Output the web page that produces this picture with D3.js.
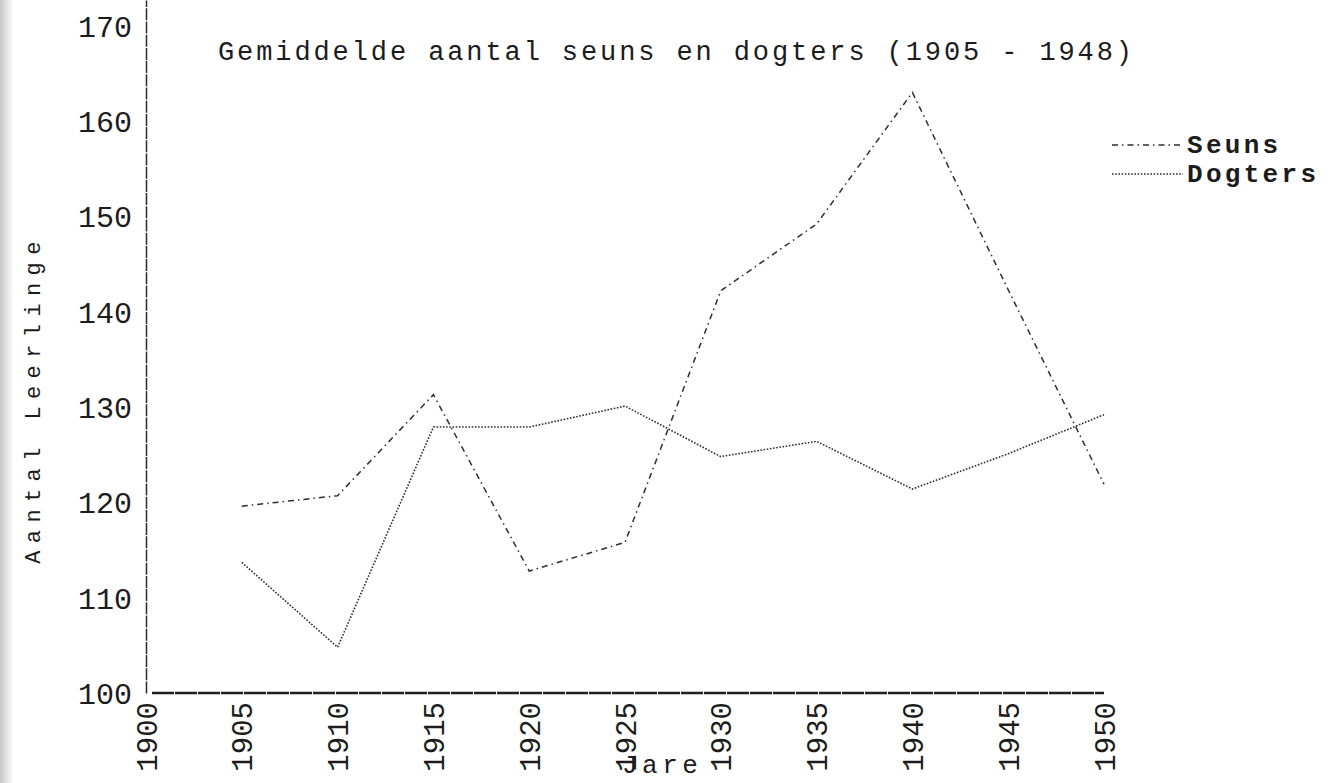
<!DOCTYPE html>
<html>
<head>
<meta charset="utf-8">
<script src="https://cdn.jsdelivr.net/npm/d3@7"></script>
<style>
  html, body { margin: 0; padding: 0; background: #fff; }
  svg { display: block; }
  text { font-family: "Liberation Mono", "Courier New", monospace; fill: #1c1c1c; }
</style>
</head>
<body>
<svg id="chart" width="1338" height="783"></svg>
<script>
// ---- Data ----
const years = [1905, 1910, 1915, 1920, 1925, 1930, 1935, 1940, 1945, 1950];
const seuns = [119.6, 120.7, 131.3, 112.8, 115.8, 142.2, 149.2, 163, 142.3, 121.9];
const dogters = [113.7, 104.8, 127.9, 127.9, 130.1, 124.8, 126.4, 121.4, 125.1, 129.2];
const xTicks = [1900, 1905, 1910, 1915, 1920, 1925, 1930, 1935, 1940, 1945, 1950];
const yTicks = [100, 110, 120, 130, 140, 150, 160, 170];
const seriesNames = ["Seuns", "Dogters"];
const titleText = "Gemiddelde aantal seuns en dogters (1905 - 1948)";
const xLabel = "Jare";
const yLabel = "Aantal Leerlinge";

// ---- Layout ----
const svg = d3.select("#chart");
const x = d3.scaleLinear().domain([1900, 1950]).range([146, 1104]);
const y = d3.scaleLinear().domain([100, 172.7]).range([693, 0]);

// faint scan edge on the left
const grad = svg.append("defs").append("linearGradient").attr("id", "edge");
grad.append("stop").attr("offset", "0").attr("stop-color", "#c8c8c8");
grad.append("stop").attr("offset", "1").attr("stop-color", "#fff");
svg.append("rect").attr("x", 0).attr("y", 0).attr("width", 14).attr("height", 783).attr("fill", "url(#edge)");

// Y axis
const yAxis = svg.append("g").attr("transform", `translate(${x(1900)},0)`)
  .call(d3.axisLeft(y).tickValues(yTicks).tickSize(0).tickPadding(14).tickFormat(d3.format("d")));
yAxis.select(".domain").attr("stroke", "#2a2a2a").attr("stroke-width", 1.5).attr("stroke-dasharray", "12,1.2");
yAxis.selectAll("text").style("font-size", "30px").attr("dy", "0.35em").attr("fill", "#1c1c1c");

// X axis
const xAxis = svg.append("g").attr("transform", `translate(0,${y(100)})`)
  .call(d3.axisBottom(x).tickValues(xTicks).tickSize(0).tickFormat(d3.format("d")));
xAxis.select(".domain").attr("d", `M${x(1900) + 6},0H${x(1950)}`)
  .attr("stroke", "#1e1e1e").attr("stroke-width", 2.4).attr("stroke-dasharray", "22,1");
xAxis.selectAll("text")
  .style("font-size", "29px")
  .attr("text-anchor", "end")
  .attr("transform", "rotate(-90)")
  .attr("x", -9)
  .attr("y", 0)
  .attr("dy", "0.35em")
  .attr("fill", "#1c1c1c");

// Lines
const line = d3.line().x((d, i) => x(years[i])).y(d => y(d));
svg.append("path").datum(seuns).attr("d", line)
  .attr("fill", "none").attr("stroke", "#2e2e2e").attr("stroke-width", 1.5)
  .attr("stroke-dasharray", "6,4,1.5,4");
svg.append("path").datum(dogters).attr("d", line)
  .attr("fill", "none").attr("stroke", "#2e2e2e").attr("stroke-width", 1.6)
  .attr("stroke-dasharray", "1.6,1.6");

// Title
svg.append("text").attr("x", 218).attr("y", 60)
  .style("font-size", "27px").style("letter-spacing", "2.9px")
  .text(titleText);

// Axis titles
svg.append("text").attr("transform", `translate(40,${(233 + 565) / 2}) rotate(-90)`)
  .attr("text-anchor", "middle")
  .style("font-size", "22px").style("letter-spacing", "7.4px").attr("fill", "#333")
  .text(yLabel);
svg.append("text").attr("x", 622).attr("y", 773)
  .style("font-size", "26px").style("letter-spacing", "4.5px")
  .text(xLabel);

// Legend
const legend = svg.append("g");
const dashes = ["6,4,1.5,4", "1.6,1.6"];
seriesNames.forEach((name, i) => {
  const ly = 145 + i * 29;
  legend.append("line").attr("x1", 1112).attr("x2", 1183).attr("y1", ly).attr("y2", ly)
    .attr("stroke", "#2e2e2e").attr("stroke-width", 1.3).attr("stroke-dasharray", dashes[i]);
  legend.append("text").attr("x", 1187).attr("y", ly + 8)
    .style("font-size", "26px").style("letter-spacing", "3.3px").style("font-weight", "bold")
    .text(name);
});
</script>
</body>
</html>
